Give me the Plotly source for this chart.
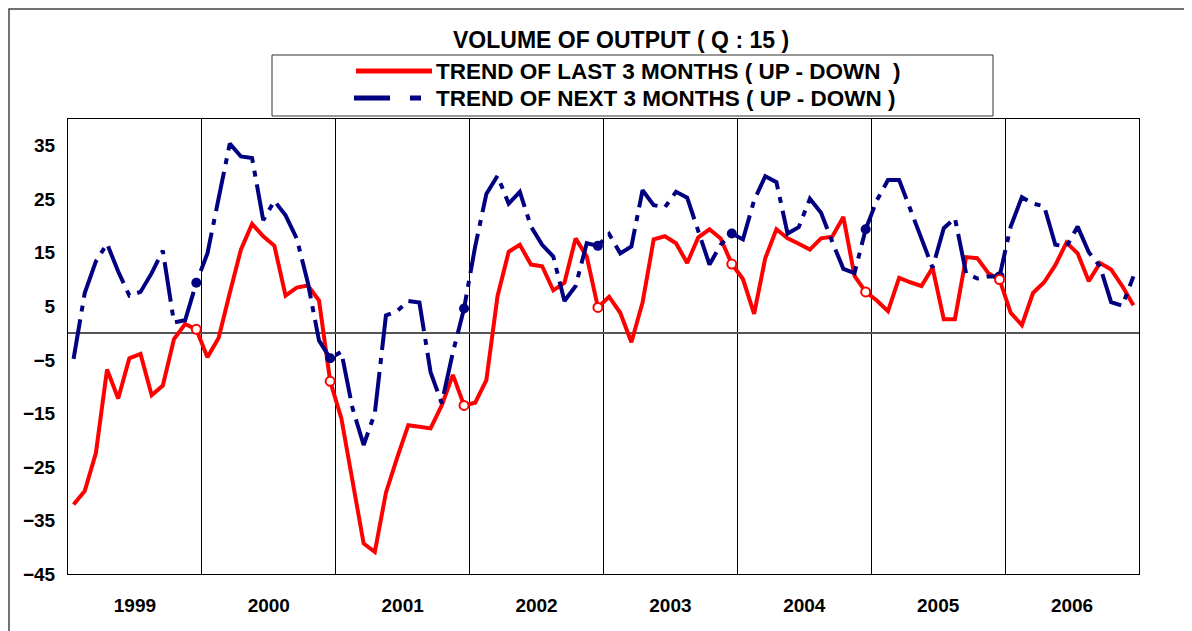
import plotly.graph_objects as go

# ---------------- data ----------------
years = ["1999", "2000", "2001", "2002", "2003", "2004", "2005", "2006"]

last_3_months = [
    -32.0, -29.5, -22.4, -6.8, -12.2, -4.7, -3.9, -11.6, -9.8, -1.1, 1.7, 0.7,      # 1999
    -4.5, -0.9, 7.5, 15.6, 20.4, 18.1, 16.3, 7.0, 8.5, 8.9, 6.1, -9.0,              # 2000
    -15.9, -27.3, -39.3, -40.9, -29.8, -23.3, -17.2, -17.5, -17.8, -13.5, -7.8, -13.5,  # 2001
    -13.0, -8.8, 6.9, 15.2, 16.5, 12.8, 12.5, 8.0, 9.4, 17.7, 14.3, 4.8,            # 2002
    6.8, 3.8, -1.7, 5.7, 17.5, 18.1, 16.8, 13.1, 17.9, 19.4, 17.7, 12.9,            # 2003
    10.1, 3.6, 14.0, 19.4, 17.7, 16.7, 15.6, 17.7, 18.0, 21.7, 10.7, 7.7,           # 2004
    6.1, 4.1, 10.3, 9.5, 8.8, 12.2, 2.6, 2.6, 14.2, 14.0, 11.2, 10.0,               # 2005
    3.8, 1.5, 7.5, 9.5, 12.7, 16.9, 14.9, 9.7, 13.1, 11.9, 8.8, 5.2,                # 2006
]

next_3_months = [
    -4.8, 7.5, 13.4, 16.7, 11.5, 7.0, 7.7, 11.2, 15.4, 2.0, 2.4, 9.4,               # 1999
    14.9, 24.8, 35.4, 33.0, 32.7, 21.1, 24.7, 22.0, 17.7, 9.4, -1.4, -4.7,          # 2000
    -3.5, -14.0, -20.9, -15.0, 3.3, 4.1, 6.0, 5.7, -7.3, -13.1, -3.6, 4.6,          # 2001
    16.2, 26.0, 29.4, 24.2, 26.4, 19.9, 16.5, 14.3, 6.0, 8.8, 16.8, 16.3,           # 2002
    18.5, 14.9, 16.2, 26.7, 23.9, 23.5, 26.4, 25.3, 19.0, 12.8, 16.5, 18.6,         # 2003
    17.5, 24.8, 29.3, 28.2, 18.6, 19.8, 25.1, 22.5, 17.1, 12.0, 11.2, 19.4,         # 2004
    24.8, 28.6, 28.6, 23.3, 18.0, 12.2, 19.6, 21.5, 11.2, 10.2, 10.6, 10.6,         # 2005
    19.9, 25.4, 24.2, 23.7, 16.5, 16.2, 19.9, 15.1, 12.5, 5.8, 5.1, 10.6,           # 2006
]

name_last = "TREND OF LAST 3 MONTHS ( UP - DOWN  )"
name_next = "TREND OF NEXT 3 MONTHS ( UP - DOWN )"
title_text = "VOLUME OF OUTPUT ( Q : 15 )"
y_ticks = [-45, -35, -25, -15, -5, 5, 15, 25, 35]

# ---------------- figure ----------------
W, H = 1192, 631
OFF = 8  # page body margin in the browser
# target plot-area box in screen pixels
SX0, SX1, SY0, SY1 = 68, 1139, 119, 574
L, T = SX0 - OFF, SY0 - OFF
R, B = W - (SX1 - OFF), H - (SY1 - OFF)
PW, PH = SX1 - SX0, SY1 - SY0

months = list(range(len(last_3_months)))
dec_idx = [i for i in months if i % 12 == 11 and i < len(months) - 1]

RED = "#FF0000"
NAVY = "#000080"
DASH = "40px,8px,6px,8px"
FONT = "Liberation Sans, Arial, sans-serif"

def px_x(p):
    return (p - SX0) / PW

def px_y(p):
    return (SY1 - p) / PH

fig = go.Figure()
fig.add_trace(go.Scatter(x=months, y=last_3_months, mode="lines",
                         line=dict(color=RED, width=4), name=name_last, showlegend=False))
fig.add_trace(go.Scatter(x=months, y=next_3_months, mode="lines",
                         line=dict(color=NAVY, width=4, dash=DASH), name=name_next, showlegend=False))
fig.add_trace(go.Scatter(x=dec_idx, y=[next_3_months[i] for i in dec_idx], mode="markers",
                         marker=dict(color=NAVY, size=10), showlegend=False, hoverinfo="skip"))
fig.add_trace(go.Scatter(x=dec_idx, y=[last_3_months[i] for i in dec_idx], mode="markers",
                         marker=dict(color="white", size=9, line=dict(color=RED, width=2)),
                         showlegend=False, hoverinfo="skip"))

shapes = []
# outer chart border (left and top edges visible, others run off the page)
shapes.append(dict(type="rect", xref="paper", yref="paper",
                   x0=px_x(9), x1=px_x(W + 20), y0=px_y(H + 20), y1=px_y(9),
                   line=dict(color="#444444", width=1.5), fillcolor="rgba(0,0,0,0)", layer="below"))
# legend box
shapes.append(dict(type="rect", xref="paper", yref="paper",
                   x0=px_x(272), x1=px_x(993), y0=px_y(116), y1=px_y(55),
                   line=dict(color="#333333", width=1), fillcolor="white"))
# legend samples
shapes.append(dict(type="line", xref="paper", yref="paper",
                   x0=px_x(356), x1=px_x(432), y0=px_y(71), y1=px_y(71),
                   line=dict(color=RED, width=5)))
shapes.append(dict(type="line", xref="paper", yref="paper",
                   x0=px_x(354), x1=px_x(421), y0=px_y(98), y1=px_y(98),
                   line=dict(color=NAVY, width=5, dash="36px,20px,11px,20px")))

annotations = [
    dict(text=title_text, xref="paper", yref="paper", x=px_x(621), y=px_y(40),
         showarrow=False, xanchor="center", yanchor="middle",
         font=dict(family=FONT, size=23, color="black", weight="bold")),
    dict(text=name_last, xref="paper", yref="paper", x=px_x(434), y=px_y(72),
         showarrow=False, xanchor="left", yanchor="middle",
         font=dict(family=FONT, size=22.5, color="black", weight="bold")),
    dict(text=name_next, xref="paper", yref="paper", x=px_x(434), y=px_y(99),
         showarrow=False, xanchor="left", yanchor="middle",
         font=dict(family=FONT, size=22.5, color="black", weight="bold")),
]

fig.update_layout(
    width=W, height=H,
    margin=dict(l=L, r=R, t=T, b=B, autoexpand=False),
    paper_bgcolor="white", plot_bgcolor="white",
    shapes=shapes, annotations=annotations,
    showlegend=False,
    xaxis=dict(
        range=[-0.5, len(months) - 0.5],
        tickvals=[12 * k + 5.5 for k in range(len(years))],
        ticktext=years,
        ticks="", showgrid=False, zeroline=False,
        showline=True, mirror=True, linecolor="black", linewidth=1,
        tickfont=dict(family=FONT, size=19, color="black", weight="bold"),
        ticklabelstandoff=14,
        minor=dict(tick0=-0.5, dtick=12, showgrid=True, gridcolor="black", gridwidth=1, ticks=""),
    ),
    yaxis=dict(
        range=[-45, 40],
        tickvals=y_ticks,
        ticks="", showgrid=False,
        zeroline=True, zerolinecolor="#555555", zerolinewidth=1.5,
        showline=True, mirror=True, linecolor="black", linewidth=1,
        tickfont=dict(family=FONT, size=19, color="black", weight="bold"),
        ticklabelstandoff=8,
    ),
)

fig.write_html("out.html")
